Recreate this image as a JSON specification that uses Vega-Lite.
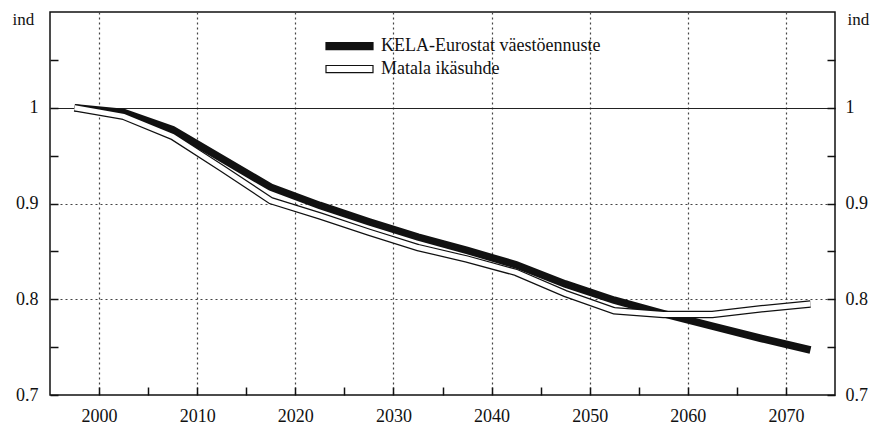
{
  "$schema": "https://vega.github.io/schema/vega-lite/v6.json",
  "width": 785,
  "height": 383,
  "autosize": {"type": "none"},
  "padding": {"left": 50, "top": 12, "right": 45, "bottom": 29},
  "background": "white",
  "config": {
    "view": {"stroke": "#111", "strokeWidth": 1.5},
    "font": "Liberation Serif, Times New Roman, serif",
    "axis": {"labelFont": "Liberation Serif, Times New Roman, serif", "titleFont": "Liberation Serif, Times New Roman, serif", "labelColor": "#111", "titleColor": "#111", "labelFontSize": 18, "titleFontSize": 17, "titleFontWeight": "normal", "labelOverlap": false, "labelFlush": false},
    "legend": {"labelFont": "Liberation Serif, Times New Roman, serif"}
  },
  "data": {
    "values": [
      {"year": 1997.5, "series": "KELA-Eurostat väestöennuste", "value": 1.000},
      {"year": 2002.5, "series": "KELA-Eurostat väestöennuste", "value": 0.995},
      {"year": 2007.5, "series": "KELA-Eurostat väestöennuste", "value": 0.977},
      {"year": 2012.5, "series": "KELA-Eurostat väestöennuste", "value": 0.947},
      {"year": 2017.5, "series": "KELA-Eurostat väestöennuste", "value": 0.917},
      {"year": 2022.5, "series": "KELA-Eurostat väestöennuste", "value": 0.898},
      {"year": 2027.5, "series": "KELA-Eurostat väestöennuste", "value": 0.881},
      {"year": 2032.5, "series": "KELA-Eurostat väestöennuste", "value": 0.865},
      {"year": 2037.5, "series": "KELA-Eurostat väestöennuste", "value": 0.851},
      {"year": 2042.5, "series": "KELA-Eurostat väestöennuste", "value": 0.836},
      {"year": 2047.5, "series": "KELA-Eurostat väestöennuste", "value": 0.816},
      {"year": 2052.5, "series": "KELA-Eurostat väestöennuste", "value": 0.799},
      {"year": 2057.5, "series": "KELA-Eurostat väestöennuste", "value": 0.785},
      {"year": 2062.5, "series": "KELA-Eurostat väestöennuste", "value": 0.772},
      {"year": 2067.5, "series": "KELA-Eurostat väestöennuste", "value": 0.759},
      {"year": 2072.5, "series": "KELA-Eurostat väestöennuste", "value": 0.747},
      {"year": 1997.5, "series": "Matala ikäsuhde", "value": 1.000},
      {"year": 2002.5, "series": "Matala ikäsuhde", "value": 0.991},
      {"year": 2007.5, "series": "Matala ikäsuhde", "value": 0.970},
      {"year": 2012.5, "series": "Matala ikäsuhde", "value": 0.937},
      {"year": 2017.5, "series": "Matala ikäsuhde", "value": 0.903},
      {"year": 2022.5, "series": "Matala ikäsuhde", "value": 0.887},
      {"year": 2027.5, "series": "Matala ikäsuhde", "value": 0.870},
      {"year": 2032.5, "series": "Matala ikäsuhde", "value": 0.854},
      {"year": 2037.5, "series": "Matala ikäsuhde", "value": 0.842},
      {"year": 2042.5, "series": "Matala ikäsuhde", "value": 0.828},
      {"year": 2047.5, "series": "Matala ikäsuhde", "value": 0.806},
      {"year": 2052.5, "series": "Matala ikäsuhde", "value": 0.788},
      {"year": 2057.5, "series": "Matala ikäsuhde", "value": 0.784},
      {"year": 2062.5, "series": "Matala ikäsuhde", "value": 0.784},
      {"year": 2067.5, "series": "Matala ikäsuhde", "value": 0.790},
      {"year": 2072.5, "series": "Matala ikäsuhde", "value": 0.795}
    ]
  },
  "layer": [
    {
      "transform": [{"filter": "datum.series === 'KELA-Eurostat väestöennuste'"}],
      "mark": {"type": "line", "color": "#111", "strokeWidth": 7.5, "strokeCap": "butt", "strokeJoin": "miter"},
      "encoding": {
        "x": {"field": "year", "type": "quantitative", "scale": {"domain": [1995, 2075], "nice": false, "zero": false},
          "axis": {"orient": "bottom", "values": [2000, 2005, 2010, 2015, 2020, 2025, 2030, 2035, 2040, 2045, 2050, 2055, 2060, 2065, 2070],
            "labelExpr": "datum.value % 10 === 0 ? format(datum.value, 'd') : ''", "grid": false, "domain": false,
            "tickSize": -8, "tickColor": "#111", "tickWidth": 1.5, "labelPadding": 20, "title": null}},
        "y": {"field": "value", "type": "quantitative", "scale": {"domain": [0.7, 1.1], "nice": false, "zero": false},
          "axis": {"orient": "left", "values": [0.7, 0.75, 0.8, 0.85, 0.9, 0.95, 1.0, 1.05],
            "labelExpr": "abs(datum.value * 10 - round(datum.value * 10)) < 0.01 ? format(datum.value, '~g') : ''",
            "grid": false, "domain": false, "tickSize": -8, "tickColor": "#111", "tickWidth": 1.5, "labelPadding": 20,
            "title": "ind", "titleAngle": 0, "titleX": -38, "titleY": 12, "titleAlign": "left", "titleBaseline": "alphabetic"}}
      }
    },
    {
      "transform": [{"filter": "datum.series === 'Matala ikäsuhde'"}],
      "mark": {"type": "line", "color": "#111", "strokeWidth": 7.5, "strokeCap": "butt", "strokeJoin": "miter"},
      "encoding": {
        "x": {"field": "year", "type": "quantitative",
          "axis": {"orient": "bottom", "values": [2000, 2010, 2020, 2030, 2040, 2050, 2060, 2070], "grid": true,
            "gridDash": [2, 3], "gridColor": "#444", "gridWidth": 1.2, "labels": false, "ticks": false, "domain": false, "title": null}},
        "y": {"field": "value", "type": "quantitative",
          "axis": {"orient": "right", "values": [0.7, 0.75, 0.8, 0.85, 0.9, 0.95, 1.0, 1.05],
            "labelExpr": "abs(datum.value * 10 - round(datum.value * 10)) < 0.01 ? format(datum.value, '~g') : ''",
            "grid": false, "domain": false, "tickSize": -8, "tickColor": "#111", "tickWidth": 1.5, "labelPadding": 18,
            "title": "ind", "titleAngle": 0, "titleX": 12, "titleY": 12, "titleAlign": "left", "titleBaseline": "alphabetic"}}
      }
    },
    {
      "transform": [{"filter": "datum.series === 'Matala ikäsuhde'"}],
      "mark": {"type": "line", "color": "#ffffff", "strokeWidth": 5, "strokeCap": "butt", "strokeJoin": "miter"},
      "encoding": {
        "x": {"field": "year", "type": "quantitative", "axis": null},
        "y": {"field": "value", "type": "quantitative",
          "axis": {"orient": "left", "values": [0.8, 0.9, 1.0], "grid": true,
            "gridDash": {"condition": {"test": "datum.value === 1", "value": []}, "value": [2, 3]},
            "gridColor": {"condition": {"test": "datum.value === 1", "value": "#222"}, "value": "#444"},
            "gridWidth": 1.2, "labels": false, "ticks": false, "domain": false, "title": null}}
      }
    },
    {
      "mark": {"type": "square", "filled": true, "opacity": 0, "size": 1, "stroke": "#111"},
      "encoding": {
        "x": {"field": "year", "type": "quantitative", "axis": null},
        "y": {"field": "value", "type": "quantitative", "axis": null},
        "fill": {"field": "series", "type": "nominal",
          "scale": {"domain": ["KELA-Eurostat väestöennuste", "Matala ikäsuhde"], "range": ["#111111", "#ffffff"]},
          "legend": {"orient": "none", "legendX": 275, "legendY": 25, "title": null, "padding": 0,
            "symbolType": "M-1,-0.15H1V0.15H-1Z", "symbolSize": 2209, "clipHeight": 18, "rowPadding": 5,
            "symbolOpacity": 1, "symbolStrokeColor": "#111", "symbolStrokeWidth": 1.2,
            "labelFontSize": 18, "labelColor": "#111", "labelOffset": 7, "labelLimit": 400}}
      }
    }
  ],
  "resolve": {"axis": {"x": "independent", "y": "independent"}}
}
